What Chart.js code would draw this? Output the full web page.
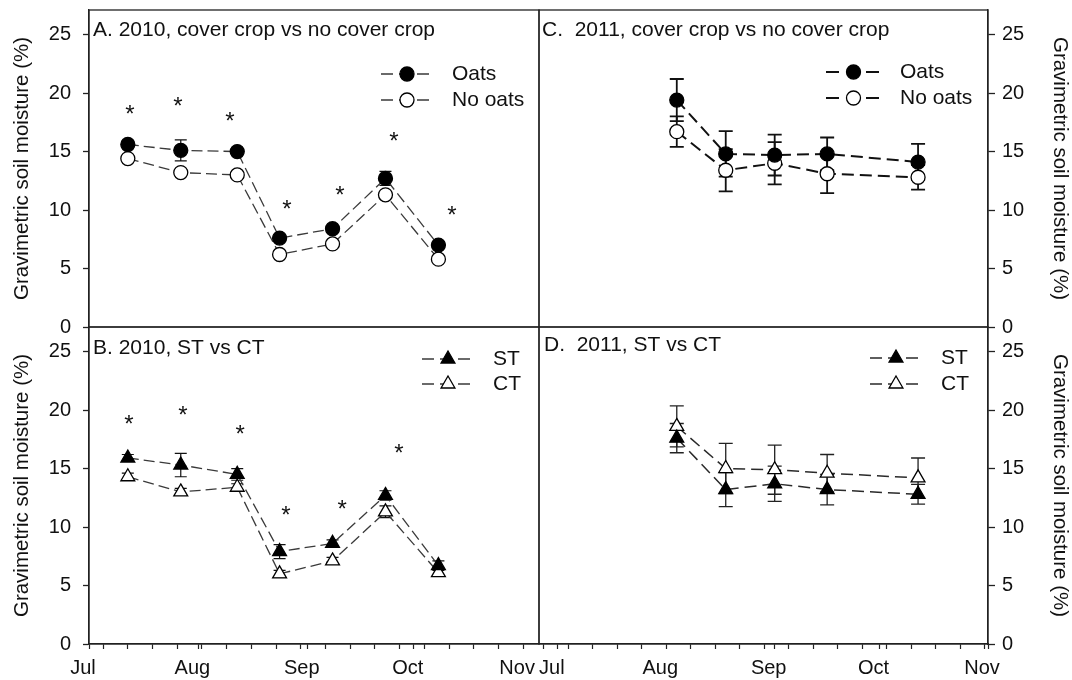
<!DOCTYPE html>
<html>
<head>
<meta charset="utf-8">
<title>Gravimetric soil moisture</title>
<script src="https://cdn.jsdelivr.net/npm/chart.js@4.4.1/dist/chart.umd.min.js"></script>
<style>
  body { margin: 0; background: #fff; }
  #wrap { position: relative; width: 1072px; height: 680px; overflow: hidden; }
  /* canvases start 30px above the page so the top panels can sit at y=10 */
  #wrap canvas { position: absolute; left: 0; top: -30px; }
</style>
</head>
<body>
<div id="wrap">
  <canvas id="chartA" width="1072" height="710"></canvas>
  <canvas id="chartB" width="1072" height="710"></canvas>
  <canvas id="chartC" width="1072" height="710"></canvas>
  <canvas id="chartD" width="1072" height="710"></canvas>
</div>
<script>
// x values are days after 1 July
const monthTicks = [0, 31, 62, 92, 123];
const monthLabels = ['Jul', 'Aug', 'Sep', 'Oct', 'Nov'];
const yTicks = [0, 5, 10, 15, 20, 25];

// sampling dates
const dates2010 = [11, 26, 42, 54, 69, 84, 99];
const dates2011 = [34, 48, 62, 77, 103];

// A. 2010, cover crop vs no cover crop
const oats2010 = [15.6, 15.1, 15.0, 7.6, 8.4, 12.7, 7.0];
const oats2010Err = [0.3, 0.9, 0.3, 0.3, 0.3, 0.6, 0.3];
const noOats2010 = [14.4, 13.2, 13.0, 6.2, 7.1, 11.3, 5.8];
const noOats2010Err = [0.3, 0.3, 0.3, 0.3, 0.3, 0.3, 0.3];
const starsAx = [11.6, 25.2, 39.9, 56.1, 71.1, 86.4, 102.8];
const starsAy = [18.7, 19.4, 18.1, 10.6, 11.8, 16.4, 10.1];

// B. 2010, ST vs CT
const st2010 = [15.9, 15.3, 14.5, 7.9, 8.6, 12.7, 6.7];
const st2010Err = [0.3, 1.0, 0.5, 0.6, 0.3, 0.4, 0.4];
const ct2010 = [14.3, 13.0, 13.4, 6.0, 7.1, 11.3, 6.1];
const ct2010Err = [0.3, 0.3, 0.3, 0.3, 0.3, 0.5, 0.3];
const starsBx = [11.3, 26.6, 42.8, 55.8, 71.7, 87.8];
const starsBy = [19.3, 20.1, 18.4, 11.5, 12.0, 16.8];

// C. 2011, cover crop vs no cover crop
const oats2011 = [19.4, 14.8, 14.7, 14.8, 14.1];
const oats2011Err = [1.8, 1.95, 1.75, 1.4, 1.55];
const noOats2011 = [16.7, 13.4, 14.0, 13.1, 12.8];
const noOats2011Err = [1.3, 1.8, 1.8, 1.65, 1.05];

// D. 2011, ST vs CT
const st2011 = [17.6, 13.2, 13.7, 13.2, 12.8];
const st2011Err = [1.25, 1.45, 1.5, 1.3, 0.85];
const ct2011 = [18.6, 15.0, 14.9, 14.6, 14.2];
const ct2011Err = [1.75, 2.15, 2.1, 1.6, 1.7];

const family = "'Liberation Sans', Arial, sans-serif";
const ink = '#111';
const axisInk = '#222';
const shift = 30; // canvas offset above the page

function points(dates, values) {
  return dates.map((d, i) => ({ x: d, y: values[i] }));
}

// weekly ticks (mondays) plus the month ticks
function weekTicks(firstMonday, min, max) {
  const values = monthTicks.slice();
  for (let d = firstMonday - 7; d <= max; d += 7) {
    if (values.indexOf(d) < 0) values.push(d);
  }
  return values.filter(v => v >= min && v <= max).sort((a, b) => a - b).map(v => ({ value: v }));
}

// error bars, under the markers
const errorBars = {
  id: 'errorBars',
  beforeDatasetsDraw(chart, args, opts) {
    const ctx = chart.ctx;
    const x = chart.scales.x;
    const y = chart.scales.y;
    ctx.save();
    ctx.strokeStyle = opts.color;
    ctx.lineWidth = opts.width;
    chart.data.datasets.forEach(ds => {
      if (!ds.errors) return;
      ds.data.forEach((p, j) => {
        const px = x.getPixelForValue(p.x);
        const top = y.getPixelForValue(p.y + ds.errors[j]);
        const bot = y.getPixelForValue(p.y - ds.errors[j]);
        ctx.beginPath();
        ctx.moveTo(px, top); ctx.lineTo(px, bot);
        ctx.moveTo(px - opts.cap, top); ctx.lineTo(px + opts.cap, top);
        ctx.moveTo(px - opts.cap, bot); ctx.lineTo(px + opts.cap, bot);
        ctx.stroke();
      });
    });
    ctx.restore();
  }
};

// frame round the plot area
const frame = {
  id: 'frame',
  afterDraw(chart) {
    const a = chart.chartArea;
    const ctx = chart.ctx;
    ctx.save();
    ctx.strokeStyle = axisInk;
    ctx.lineWidth = 1.3;
    ctx.strokeRect(a.left, a.top, a.right - a.left, a.bottom - a.top);
    ctx.restore();
  }
};

// significance asterisks
const stars = {
  id: 'stars',
  afterDatasetsDraw(chart, args, opts) {
    if (!opts.xs) return;
    const ctx = chart.ctx;
    ctx.save();
    ctx.fillStyle = ink;
    ctx.font = opts.size + 'px ' + family;
    ctx.textAlign = 'center';
    ctx.textBaseline = 'alphabetic';
    opts.xs.forEach((v, i) => {
      const px = chart.scales.x.getPixelForValue(v);
      const py = chart.scales.y.getPixelForValue(opts.ys[i]);
      ctx.fillText('*', px, py + opts.size * 0.57);
    });
    ctx.restore();
  }
};

// panel title and legend inside the plot (positions in page pixels)
const panelText = {
  id: 'panelText',
  afterDraw(chart, args, opts) {
    const ctx = chart.ctx;
    ctx.save();
    ctx.translate(0, shift);
    ctx.fillStyle = ink;
    ctx.textBaseline = 'middle';
    ctx.textAlign = 'left';
    ctx.font = opts.titleSize + 'px ' + family;
    ctx.fillText(opts.title, opts.titleX, opts.titleY);
    const lg = opts.legend;
    ctx.font = lg.size + 'px ' + family;
    chart.data.datasets.forEach((ds, i) => {
      const y = lg.y + i * lg.dy;
      ctx.save();
      ctx.strokeStyle = ds.borderColor;
      ctx.lineWidth = ds.borderWidth;
      ctx.setLineDash(lg.dash);
      ctx.beginPath();
      ctx.moveTo(lg.x, y);
      ctx.lineTo(lg.x + lg.len, y);
      ctx.stroke();
      ctx.restore();
      ctx.save();
      ctx.fillStyle = ds.pointBackgroundColor;
      ctx.strokeStyle = ds.pointBorderColor;
      ctx.lineWidth = ds.pointBorderWidth;
      Chart.helpers.drawPoint(ctx, {
        pointStyle: ds.pointStyle, radius: ds.pointRadius, rotation: 0, borderWidth: ds.pointBorderWidth
      }, lg.x + lg.len / 2, y);
      ctx.restore();
      ctx.fillText(ds.label, lg.x + lg.len + lg.gap, y);
    });
    ctx.restore();
  }
};

function yAxis(position) {
  const left = position === 'left';
  return {
    position: position,
    min: 0,
    max: 27.1,
    afterBuildTicks: axis => { axis.ticks = yTicks.map(v => ({ value: v })); },
    afterFit: s => { s.width = left ? 89 : 84; },
    ticks: { color: ink, font: { family: family, size: 20 }, padding: left ? 12 : 7 },
    grid: { drawOnChartArea: false, tickLength: left ? 6 : 7, tickColor: axisInk, tickWidth: 1.3 },
    border: { color: axisInk, width: 1.3 },
    title: {
      display: true, text: 'Gravimetric soil moisture (%)', color: ink,
      font: { family: family, size: 20.5 }, padding: { top: left ? 10 : 0, bottom: 0 }
    }
  };
}

function xAxis(min, max, firstMonday, show) {
  return {
    type: 'linear',
    display: show,
    min: min,
    max: max,
    afterBuildTicks: axis => { axis.ticks = weekTicks(firstMonday, min, max); },
    afterFit: s => { if (show) s.height = 36; },
    ticks: {
      autoSkip: false, maxRotation: 0, labelOffset: -6, padding: 7,
      color: ink, font: { family: family, size: 20 },
      callback: v => {
        const i = monthTicks.indexOf(v);
        return i < 0 ? '' : monthLabels[i];
      }
    },
    grid: { drawOnChartArea: false, tickLength: 5, tickColor: axisInk, tickWidth: 1.2 },
    border: { color: axisInk, width: 1.3 }
  };
}

function series(label, data, errors, style, filled, look) {
  return {
    label: label,
    data: data,
    errors: errors,
    borderColor: look.line,
    borderWidth: look.width,
    borderDash: look.dash,
    tension: 0,
    fill: false,
    pointStyle: style,
    pointRadius: look.radius,
    pointHoverRadius: look.radius,
    pointBackgroundColor: filled ? '#000' : '#fff',
    pointBorderColor: '#000',
    pointBorderWidth: 1.3
  };
}

// plot area given in page pixels: left, top, right, bottom
function makeChart(id, datasets, x, yPos, area, extra) {
  const pad = {
    left: yPos === 'left' ? area[0] - 89 : area[0],
    top: area[1] + shift,
    right: yPos === 'right' ? 1072 - area[2] - 84 : 1072 - area[2],
    bottom: 680 - area[3] - (x.display ? 36 : 0)
  };
  return new Chart(document.getElementById(id), {
    type: 'line',
    data: { datasets: datasets },
    options: {
      responsive: false,
      animation: false,
      devicePixelRatio: 1,
      layout: { padding: pad },
      scales: { x: x, y: yAxis(yPos) },
      plugins: {
        legend: { display: false },
        tooltip: { enabled: false },
        errorBars: extra.err,
        stars: extra.stars || {},
        panelText: extra.text
      }
    },
    plugins: [errorBars, stars, frame, panelText]
  });
}

const look2010 = { line: '#3a3a3a', width: 1.3, dash: [11, 5], radius: 7 };
const lookTri2010 = { line: '#3a3a3a', width: 1.3, dash: [11, 5], radius: 8 };
const lookC = { line: '#111', width: 2, dash: [12, 6], radius: 7 };
const lookD = { line: '#2a2a2a', width: 1.5, dash: [12, 6], radius: 8 };

// A
makeChart('chartA', [
  series('Oats', points(dates2010, oats2010), oats2010Err, 'circle', true, look2010),
  series('No oats', points(dates2010, noOats2010), noOats2010Err, 'circle', false, look2010)
], xAxis(0, 127.5, 4, false), 'left', [89, 10, 539, 327], {
  err: { color: '#111', width: 1.2, cap: 6 },
  stars: { xs: starsAx, ys: starsAy, size: 24 },
  text: {
    title: 'A. 2010, cover crop vs no cover crop', titleX: 93, titleY: 30, titleSize: 21,
    legend: { x: 381, y: 74, dy: 26, len: 52, gap: 19, size: 21, dash: [12, 6] }
  }
});

// B
makeChart('chartB', [
  series('ST', points(dates2010, st2010), st2010Err, 'triangle', true, lookTri2010),
  series('CT', points(dates2010, ct2010), ct2010Err, 'triangle', false, lookTri2010)
], xAxis(0, 127.5, 4, true), 'left', [89, 327, 539, 644], {
  err: { color: '#111', width: 1.2, cap: 6 },
  stars: { xs: starsBx, ys: starsBy, size: 24 },
  text: {
    title: 'B. 2010, ST vs CT', titleX: 93, titleY: 348, titleSize: 21,
    legend: { x: 422, y: 359, dy: 25, len: 52, gap: 19, size: 21, dash: [12, 6] }
  }
});

// C
makeChart('chartC', [
  series('Oats', points(dates2011, oats2011), oats2011Err, 'circle', true, lookC),
  series('No oats', points(dates2011, noOats2011), noOats2011Err, 'circle', false, lookC)
], xAxis(-5.4, 123, 3, false), 'right', [539, 10, 988, 327], {
  err: { color: '#111', width: 1.8, cap: 7 },
  text: {
    title: 'C.  2011, cover crop vs no cover crop', titleX: 542, titleY: 30, titleSize: 21,
    legend: { x: 826, y: 72, dy: 26, len: 55, gap: 19, size: 21, dash: [13, 7] }
  }
});

// D
makeChart('chartD', [
  series('ST', points(dates2011, st2011), st2011Err, 'triangle', true, lookD),
  series('CT', points(dates2011, ct2011), ct2011Err, 'triangle', false, lookD)
], xAxis(-5.4, 123, 3, true), 'right', [539, 327, 988, 644], {
  err: { color: '#222', width: 1.3, cap: 7 },
  text: {
    title: 'D.  2011, ST vs CT', titleX: 544, titleY: 345, titleSize: 21,
    legend: { x: 870, y: 358, dy: 26, len: 52, gap: 19, size: 21, dash: [12, 6] }
  }
});
</script>
</body>
</html>
